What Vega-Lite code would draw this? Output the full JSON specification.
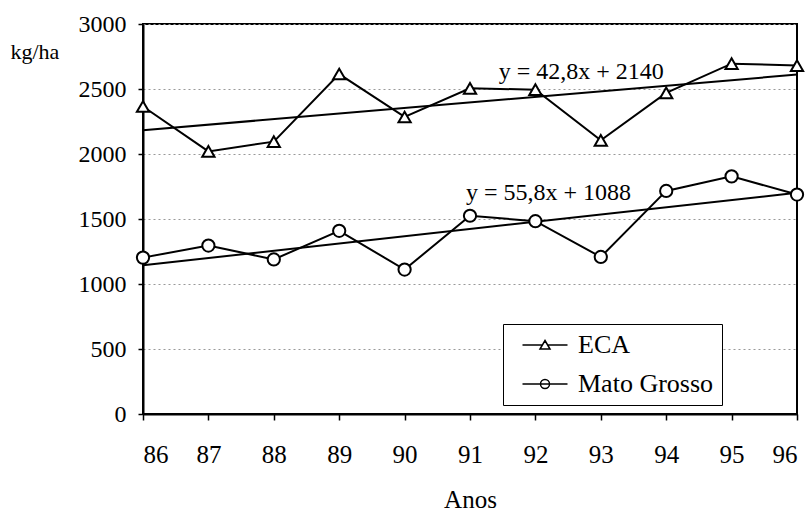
{
  "$schema": "https://vega.github.io/schema/vega-lite/v6.json",
  "width": 654,
  "height": 390,
  "autosize": {"type": "none"},
  "padding": {"left": 143, "top": 24, "right": 12, "bottom": 101},
  "background": "white",
  "config": {
    "font": "Liberation Serif",
    "view": {"stroke": "black", "strokeWidth": 2},
    "style": {"guide-label": {"font": "Liberation Serif", "fill": "black"}, "guide-title": {"font": "Liberation Serif", "fill": "black", "fontWeight": "normal"}},
    "axis": {"labelColor": "black", "titleColor": "black", "labelFont": "Liberation Serif", "titleFont": "Liberation Serif", "titleFontWeight": "normal"},
    "axisX": {"labelFont": "Liberation Serif", "titleFont": "Liberation Serif"},
    "axisY": {"labelFont": "Liberation Serif", "titleFont": "Liberation Serif"}
  },
  "datasets": {
    "pts": [
      {"year": 86, "series": "ECA", "value": 2365},
      {"year": 87, "series": "ECA", "value": 2020},
      {"year": 88, "series": "ECA", "value": 2095},
      {"year": 89, "series": "ECA", "value": 2615},
      {"year": 90, "series": "ECA", "value": 2285},
      {"year": 91, "series": "ECA", "value": 2505},
      {"year": 92, "series": "ECA", "value": 2495},
      {"year": 93, "series": "ECA", "value": 2105},
      {"year": 94, "series": "ECA", "value": 2470},
      {"year": 95, "series": "ECA", "value": 2695},
      {"year": 96, "series": "ECA", "value": 2680},
      {"year": 86, "series": "Mato Grosso", "value": 1203},
      {"year": 87, "series": "Mato Grosso", "value": 1296},
      {"year": 88, "series": "Mato Grosso", "value": 1189},
      {"year": 89, "series": "Mato Grosso", "value": 1409},
      {"year": 90, "series": "Mato Grosso", "value": 1111},
      {"year": 91, "series": "Mato Grosso", "value": 1525},
      {"year": 92, "series": "Mato Grosso", "value": 1483},
      {"year": 93, "series": "Mato Grosso", "value": 1208},
      {"year": 94, "series": "Mato Grosso", "value": 1716},
      {"year": 95, "series": "Mato Grosso", "value": 1828},
      {"year": 96, "series": "Mato Grosso", "value": 1688}
    ],
    "trend": [
      {"year": 86, "series": "ECA", "value": 2182.8},
      {"year": 96, "series": "ECA", "value": 2610.8},
      {"year": 86, "series": "Mato Grosso", "value": 1143.8},
      {"year": 96, "series": "Mato Grosso", "value": 1701.8}
    ],
    "eq": [
      {"year": 92.7, "value": 2630, "label": "y = 42,8x + 2140"},
      {"year": 92.2, "value": 1700, "label": "y = 55,8x + 1088"}
    ]
  },
  "resolve": {"scale": {"shape": "independent"}, "legend": {"shape": "independent"}},
  "layer": [
    {
      "data": {"name": "pts"},
      "mark": {"type": "line", "color": "black", "strokeWidth": 2},
      "encoding": {
        "x": {"field": "year", "type": "quantitative", "scale": {"domain": [86, 96], "nice": false, "zero": false},
          "axis": {"values": [86, 87, 88, 89, 90, 91, 92, 93, 94, 95, 96], "format": "d", "labelFont": "Liberation Serif", "labelFontSize": 25, "tickSize": 6, "tickColor": "black", "tickWidth": 1.5, "domainColor": "black", "domainWidth": 2, "grid": false, "labelPadding": 22, "title": "Anos", "titleFont": "Liberation Serif", "titleFontSize": 25, "titlePadding": 20,
            "encode": {"labels": {"update": {"font": {"value": "Liberation Serif"}}}, "title": {"update": {"font": {"value": "Liberation Serif"}}}}}},
        "y": {"field": "value", "type": "quantitative", "scale": {"domain": [0, 3000], "nice": false},
          "axis": {"values": [0, 500, 1000, 1500, 2000, 2500, 3000], "format": "d", "labelFont": "Liberation Serif", "labelFontSize": 24, "tickSize": 5, "tickColor": "black", "tickWidth": 1.5, "domainColor": "black", "domainWidth": 2, "grid": true, "gridColor": "#999999", "gridDash": [2, 3], "gridWidth": 1, "labelPadding": 12, "title": "kg/ha", "titleFont": "Liberation Serif", "titleFontSize": 22, "titleAngle": 0, "titleAlign": "left", "titleBaseline": "alphabetic", "titleX": -133, "titleY": 34,
            "encode": {"labels": {"update": {"font": {"value": "Liberation Serif"}}}, "title": {"update": {"font": {"value": "Liberation Serif"}}}}}},
        "detail": {"field": "series"}
      }
    },
    {
      "data": {"name": "trend"},
      "mark": {"type": "line", "color": "black", "strokeWidth": 2},
      "encoding": {
        "x": {"field": "year", "type": "quantitative"},
        "y": {"field": "value", "type": "quantitative"},
        "detail": {"field": "series"}
      }
    },
    {
      "data": {"name": "pts"},
      "mark": {"type": "point", "filled": true, "fill": "white", "stroke": "black", "strokeWidth": 2, "opacity": 1, "size": 150},
      "encoding": {
        "x": {"field": "year", "type": "quantitative"},
        "y": {"field": "value", "type": "quantitative"},
        "shape": {"field": "series", "type": "nominal", "scale": {"domain": ["ECA", "Mato Grosso"], "range": ["triangle-up", "circle"]}, "legend": null}
      }
    },
    {
      "data": {"name": "pts"},
      "transform": [{"filter": "datum.year > 1000"}],
      "mark": {"type": "point", "filled": true, "fill": "white", "stroke": "black", "strokeWidth": 2, "opacity": 1, "size": 144},
      "encoding": {
        "x": {"field": "year", "type": "quantitative"},
        "y": {"field": "value", "type": "quantitative"},
        "shape": {"field": "series", "type": "nominal",
          "scale": {"domain": ["ECA", "Mato Grosso"], "range": ["M-4.5,0H-0.53M0.53,0H4.5M0,-0.9L1,0.8H-1Z", "M-4.5,0H4.5M-0.9,0A0.9,0.9 0 1,1 0.9,0A0.9,0.9 0 1,1 -0.9,0Z"]},
          "legend": {"title": null, "orient": "none", "legendX": 360, "legendY": 300, "labelFontSize": 26, "labelFont": "Liberation Serif", "labelColor": "black", "strokeColor": "black", "fillColor": "white", "padding": 8, "symbolOffset": 21, "labelOffset": 20, "rowPadding": 13}}
      }
    },
    {
      "data": {"name": "eq"},
      "mark": {"type": "text", "fontSize": 24, "font": "Liberation Serif", "color": "black", "align": "center", "baseline": "middle"},
      "encoding": {
        "x": {"field": "year", "type": "quantitative"},
        "y": {"field": "value", "type": "quantitative"},
        "text": {"field": "label"}
      }
    }
  ]
}
